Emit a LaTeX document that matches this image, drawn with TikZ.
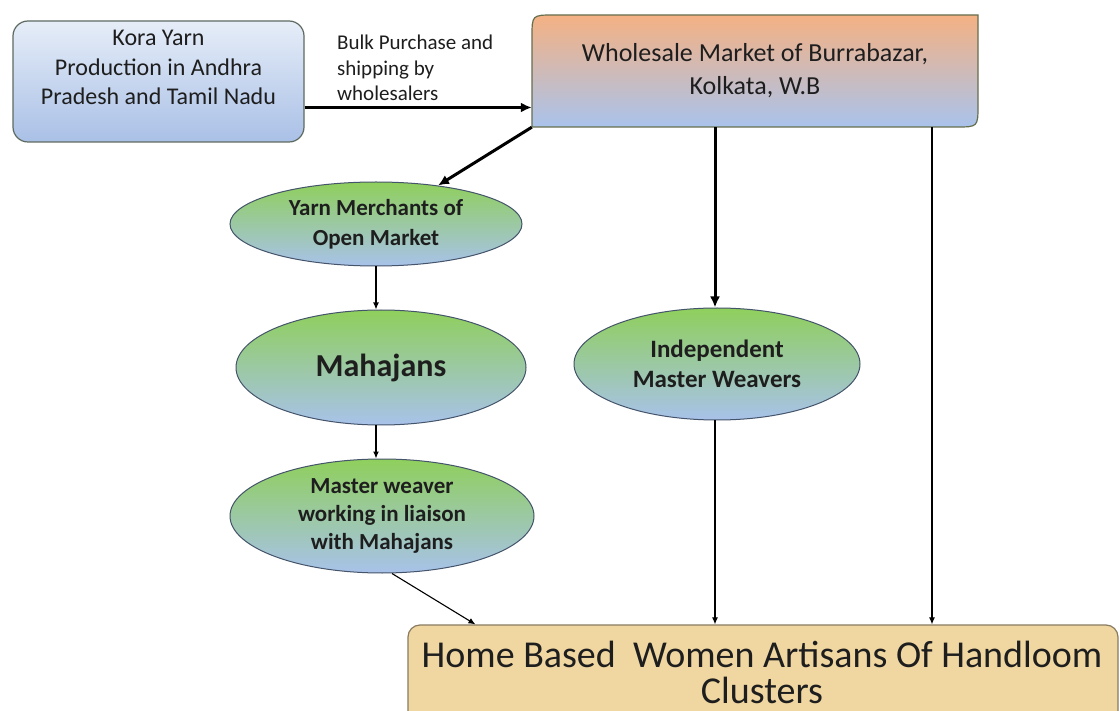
\documentclass[tikz,border=0pt]{standalone}
\usepackage{fontspec}
\setmainfont{Carlito}
\usetikzlibrary{shapes.geometric,arrows.meta}
\definecolor{kboxtop}{HTML}{E6EDF8}
\definecolor{kboxbot}{HTML}{A9C0E6}
\definecolor{wtop}{HTML}{F4B183}
\definecolor{wbot}{HTML}{A9C3EC}
\definecolor{egreen}{HTML}{8FCF5C}
\definecolor{eblue}{HTML}{A8C2EA}
\definecolor{hfill}{HTML}{F0D7A2}
\definecolor{edgegray}{HTML}{5E6A60}
\definecolor{elledge}{HTML}{44546A}
\definecolor{hedge}{HTML}{8A7A60}
\definecolor{txt}{HTML}{1E1E1E}
\begin{document}
\begin{tikzpicture}[x=1pt,y=-1pt,
  korabox/.style={draw=edgegray, line width=1.2pt, rounded corners=15pt,
    top color=kboxtop, bottom color=kboxbot, minimum width=291pt, minimum height=121pt, inner sep=0pt},
  wholeshape/.style={draw=edgegray!80!olive, line width=1.2pt, top color=wtop, bottom color=wbot},
  ell/.style={ellipse, draw=elledge, line width=1pt, top color=egreen, bottom color=eblue,
    inner sep=0pt, text=txt, align=center},
  homebox/.style={draw=hedge, line width=1.2pt, rounded corners=12pt, fill=hfill,
    minimum width=710pt, minimum height=102pt, inner sep=0pt},
  plain/.style={text=txt, align=center, inner sep=0pt},
  thickarrow/.style={line width=3pt, -{Latex[length=11pt,width=10pt]}},
  thinarrow/.style={line width=1.1pt, -{Latex[length=7pt,width=6pt]}}
]
\useasboundingbox (0,0) rectangle (1120,711);
\clip (0,0) rectangle (1120,711);
\fill[white] (0,0) rectangle (1120,711);

% Kora yarn box
\node[korabox] (kora) at (158.5,81.5) {};
\node[plain, font=\fontsize{24}{29.5}\selectfont] (koratext) at (158.5,67.5)
  {Kora Yarn\\Production in Andhra\\Pradesh and Tamil Nadu};

% Wholesale market shape
\path[wholeshape] (532,127) -- (532,37) .. controls (532,15) .. (554,15) -- (978,15)
  -- (978,105) .. controls (978,127) .. (956,127) -- cycle;
\node[plain, minimum width=446pt, minimum height=112pt, font=\fontsize{26}{33}\selectfont]
  (whole) at (755,71) {Wholesale Market of Burrabazar,\\Kolkata, W.B};

% label
\node[anchor=west, align=left, inner sep=0pt, text=txt, font=\fontsize{21}{25.5}\selectfont]
  (bulk) at (337,68) {Bulk Purchase and\\shipping by\\wholesalers};

% Ellipses
\node[ell, minimum width=292pt, minimum height=84pt, font=\bfseries\fontsize{23}{30}\selectfont]
  (yarn) at (376,224) {Yarn Merchants of\\Open Market};
\node[ell, minimum width=290pt, minimum height=115pt, font=\bfseries\fontsize{32}{36}\selectfont]
  (mah) at (381,367.5) {Mahajans};
\node[ell, minimum width=304pt, minimum height=114pt, inner ysep=-6pt, font=\bfseries\fontsize{23}{28}\selectfont]
  (mw) at (382,516) {Master weaver\\working in liaison\\with Mahajans};
\node[ell, minimum width=286pt, minimum height=112pt, font=\bfseries\fontsize{25}{30}\selectfont]
  (indep) at (717,364) {Independent\\Master Weavers};

% Home based box
\node[homebox] (home) at (763,676) {};
\node[plain, font=\fontsize{38}{36}\selectfont] (hometext) at (762,672)
  {Home Based\ \ Women Artisans Of Handloom\\Clusters};

% Connectors
\draw[thickarrow] ([yshift=-26pt]kora.east) -- ([yshift=-36.5pt]whole.west);
\draw[thickarrow] (whole.south west) -- (yarn);
\draw[thickarrow] ([xshift=-40pt]whole.south) -- ([xshift=-40pt]whole.south |- indep.north);
\draw[thinarrow] ([xshift=177pt]whole.south) -- ([xshift=177pt]whole.south |- home.north);
\draw[thinarrow] (yarn.south) -- (yarn.south |- mah.north);
\draw[thinarrow] ([xshift=-5pt]mah.south) -- ([xshift=-5pt]mah.south |- mw.north);
\draw[thinarrow] ([xshift=10pt]mw.south) -- ([xshift=68pt]home.north west);
\draw[thinarrow] ([xshift=-2pt]indep.south) -- ([xshift=-2pt]indep.south |- home.north);
\end{tikzpicture}
\end{document}
